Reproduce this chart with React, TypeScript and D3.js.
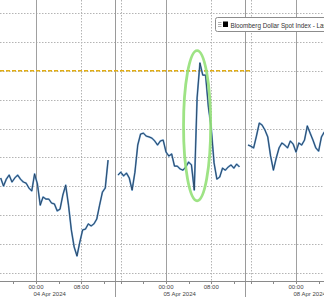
import React from 'react';
import * as d3 from 'd3';

const W = 324;
const H = 297;

// Trading-hour offsets (one hour session break per day, weekend removed)
const seriesName = 'Bloomberg Dollar Spot Index - Last Price';
const dayLabels = ['04 Apr 2024', '05 Apr 2024', '08 Apr 2024'];
const dayStarts = [0, 23, 46];
const hourTickLabels = ['00:00', '08:00'];
const hourTickOffsets = [0, 8];
const minorTickOffsets = [-4, 0, 4, 8, 12, 15, 19];
const sessionBreaks = [14, 37];
const dottedGridOffsets = [8, 15];

const step = 0.5;
const seg1Start = -6.25;
const seg1Values = [
  1263.29, 1263.01, 1263.25, 1263.39, 1263.15, 1263.29, 1263.39, 1263.25, 1263.15, 1263.11,
  1262.94, 1262.84, 1263.43, 1263.08, 1262.35, 1262.63, 1262.56, 1262.56, 1262.42, 1262.39,
  1262.15, 1262.21, 1262.70, 1263.04, 1262.35, 1261.49, 1260.90, 1260.59, 1261.07, 1261.49,
  1261.52, 1261.70, 1261.63, 1261.70, 1261.87, 1262.35, 1262.80, 1262.94, 1263.91,
];
const seg2Start = 14.5;
const seg2Values = [
  1263.39, 1263.49, 1263.36, 1263.46, 1263.29, 1262.87, 1263.49, 1264.43, 1264.81, 1264.84,
  1264.74, 1264.71, 1264.67, 1264.57, 1264.43, 1264.57, 1264.60, 1264.19, 1264.05, 1264.12,
  1263.70, 1263.70, 1263.60, 1263.56, 1263.67, 1263.84, 1263.74, 1262.87, 1266.06, 1267.27,
  1266.85, 1266.85, 1265.74, 1265.02, 1263.81, 1263.25, 1263.32, 1263.63, 1263.56, 1263.67,
  1263.74, 1263.63, 1263.77, 1263.67,
];
const seg3Start = 37.5;
const seg3Values = [
  1264.43, 1264.39, 1264.33, 1264.74, 1265.19, 1265.12, 1264.95, 1264.71, 1264.05, 1263.56,
  1263.98, 1264.33, 1264.50, 1264.43, 1264.33, 1264.57, 1264.46, 1264.19, 1264.50, 1264.43,
  1264.60, 1265.09, 1264.84, 1264.60, 1264.33, 1264.22, 1264.71, 1264.88,
];

const gridValues = [1260, 1261, 1262, 1263, 1264, 1265, 1266, 1267, 1268, 1269];
const resistanceLevel = 1267;
const resistanceEnd = 38;

const highlightT = 28.5;
const highlightV = 1265.1;
const highlightHalfT = 2.4;
const highlightHalfV = 2.6;

const x = d3.scaleLinear().domain([-6.37, 50.95]).range([0, W]);
const y = d3.scaleLinear().domain([1260, 1269]).range([273, 13]);
const axisY = 281;

const toPoints = (start: number, vals: number[]): [number, number][] =>
  vals.map((v, i) => [start + i * step, v]);

const segments = [
  toPoints(seg1Start, seg1Values),
  toPoints(seg2Start, seg2Values),
  toPoints(seg3Start, seg3Values),
];

const line = d3
  .line<[number, number]>()
  .x((d) => x(d[0]))
  .y((d) => y(d[1]));

const font = '"Liberation Sans", Arial, sans-serif';

export default function App() {
  const days = [-23, ...dayStarts];
  const minorTicks: number[] = [];
  days.forEach((d) => minorTickOffsets.forEach((o) => minorTicks.push(d + o + (o < 0 ? 23 : 0))));
  const dotted: number[] = [];
  days.forEach((d) => dottedGridOffsets.forEach((o) => dotted.push(d + o)));
  const [x0, x1] = x.domain();

  return (
    <svg
      width={W}
      height={H}
      style={{ position: 'absolute', left: 0, top: 0, display: 'block', background: '#fff' }}
    >
      {/* horizontal grid */}
      {gridValues.map((g) => (
        <line
          key={'h' + g}
          x1={0}
          x2={W}
          y1={Math.round(y(g)) + 0.5}
          y2={Math.round(y(g)) + 0.5}
          stroke="#b4b4b4"
          strokeWidth={1}
          strokeDasharray="1.5,1.5"
        />
      ))}
      {/* dotted vertical grid */}
      {dotted
        .filter((t) => t > x0 && t < x1)
        .map((t) => (
          <line
            key={'dv' + t}
            x1={Math.round(x(t)) + 0.5}
            x2={Math.round(x(t)) + 0.5}
            y1={0}
            y2={axisY}
            stroke="#b4b4b4"
            strokeWidth={1}
            strokeDasharray="1.5,1.5"
          />
        ))}
      {/* solid day lines */}
      {dayStarts.map((t) => (
        <line
          key={'ds' + t}
          x1={Math.round(x(t)) + 0.5}
          x2={Math.round(x(t)) + 0.5}
          y1={0}
          y2={axisY}
          stroke="#a0a0a0"
          strokeWidth={1}
        />
      ))}
      {/* session breaks */}
      {sessionBreaks.map((t) => (
        <line
          key={'sb' + t}
          x1={Math.round(x(t)) + 0.5}
          x2={Math.round(x(t)) + 0.5}
          y1={0}
          y2={H}
          stroke="#9a9a9a"
          strokeWidth={1}
        />
      ))}
      {/* resistance level */}
      <line
        x1={x(x0)}
        x2={x(resistanceEnd)}
        y1={y(resistanceLevel)}
        y2={y(resistanceLevel)}
        stroke="#e3ae12"
        strokeWidth={1.4}
        strokeDasharray="4,2"
      />
      {/* series */}
      {segments.map((s, i) => (
        <g key={'s' + i}>
          <path d={line(s) || ''} fill="none" stroke="#6a9fd0" strokeWidth={1.8} strokeLinejoin="round" />
          <path d={line(s) || ''} fill="none" stroke="#1d3550" strokeWidth={0.8} strokeLinejoin="round" />
        </g>
      ))}
      {/* highlight ellipse */}
      <ellipse
        cx={x(highlightT)}
        cy={y(highlightV)}
        rx={x(highlightT + highlightHalfT) - x(highlightT)}
        ry={y(highlightV - highlightHalfV) - y(highlightV)}
        fill="none"
        stroke="#94e078"
        strokeWidth={2.8}
        opacity={0.9}
      />
      {/* axis */}
      <line x1={0} x2={W} y1={axisY + 0.5} y2={axisY + 0.5} stroke="#8a8a8a" strokeWidth={1} />
      {minorTicks
        .filter((t) => t > x0 && t < x1)
        .map((t, i) => (
          <line
            key={'mt' + i}
            x1={Math.round(x(t)) + 0.5}
            x2={Math.round(x(t)) + 0.5}
            y1={axisY}
            y2={axisY + 3}
            stroke="#8a8a8a"
            strokeWidth={1}
          />
        ))}
      {dayStarts.map((d, di) =>
        hourTickOffsets.map((o, oi) =>
          d + o < x1 ? (
            <text
              key={'hl' + di + oi}
              x={x(d + o)}
              y={288.5}
              fontSize={6}
              fontFamily={font}
              fill="#444"
              textAnchor="middle"
            >
              {hourTickLabels[oi]}
            </text>
          ) : null
        )
      )}
      {dayStarts.map((d, di) => (
        <text key={'dl' + di} x={x(d) - 2.5} y={296} fontSize={6} fontFamily={font} fill="#444">
          {dayLabels[di]}
        </text>
      ))}
      {/* legend */}
      <g>
        <rect x={215.5} y={17.5} width={130} height={14} rx={2} fill="#fff" stroke="#8c8c8c" strokeWidth={1} />
        {[22.5, 24.5, 26.5].map((yy) => (
          <line key={'lg' + yy} x1={218} x2={221.5} y1={yy} y2={yy} stroke="#a0a0a0" strokeWidth={0.8} />
        ))}
        <rect x={223} y={21.5} width={5} height={5.5} fill="#000" />
        <text x={230.5} y={27.5} fontSize={6.3} fontFamily={font} fill="#333">
          {seriesName}
        </text>
      </g>
    </svg>
  );
}
